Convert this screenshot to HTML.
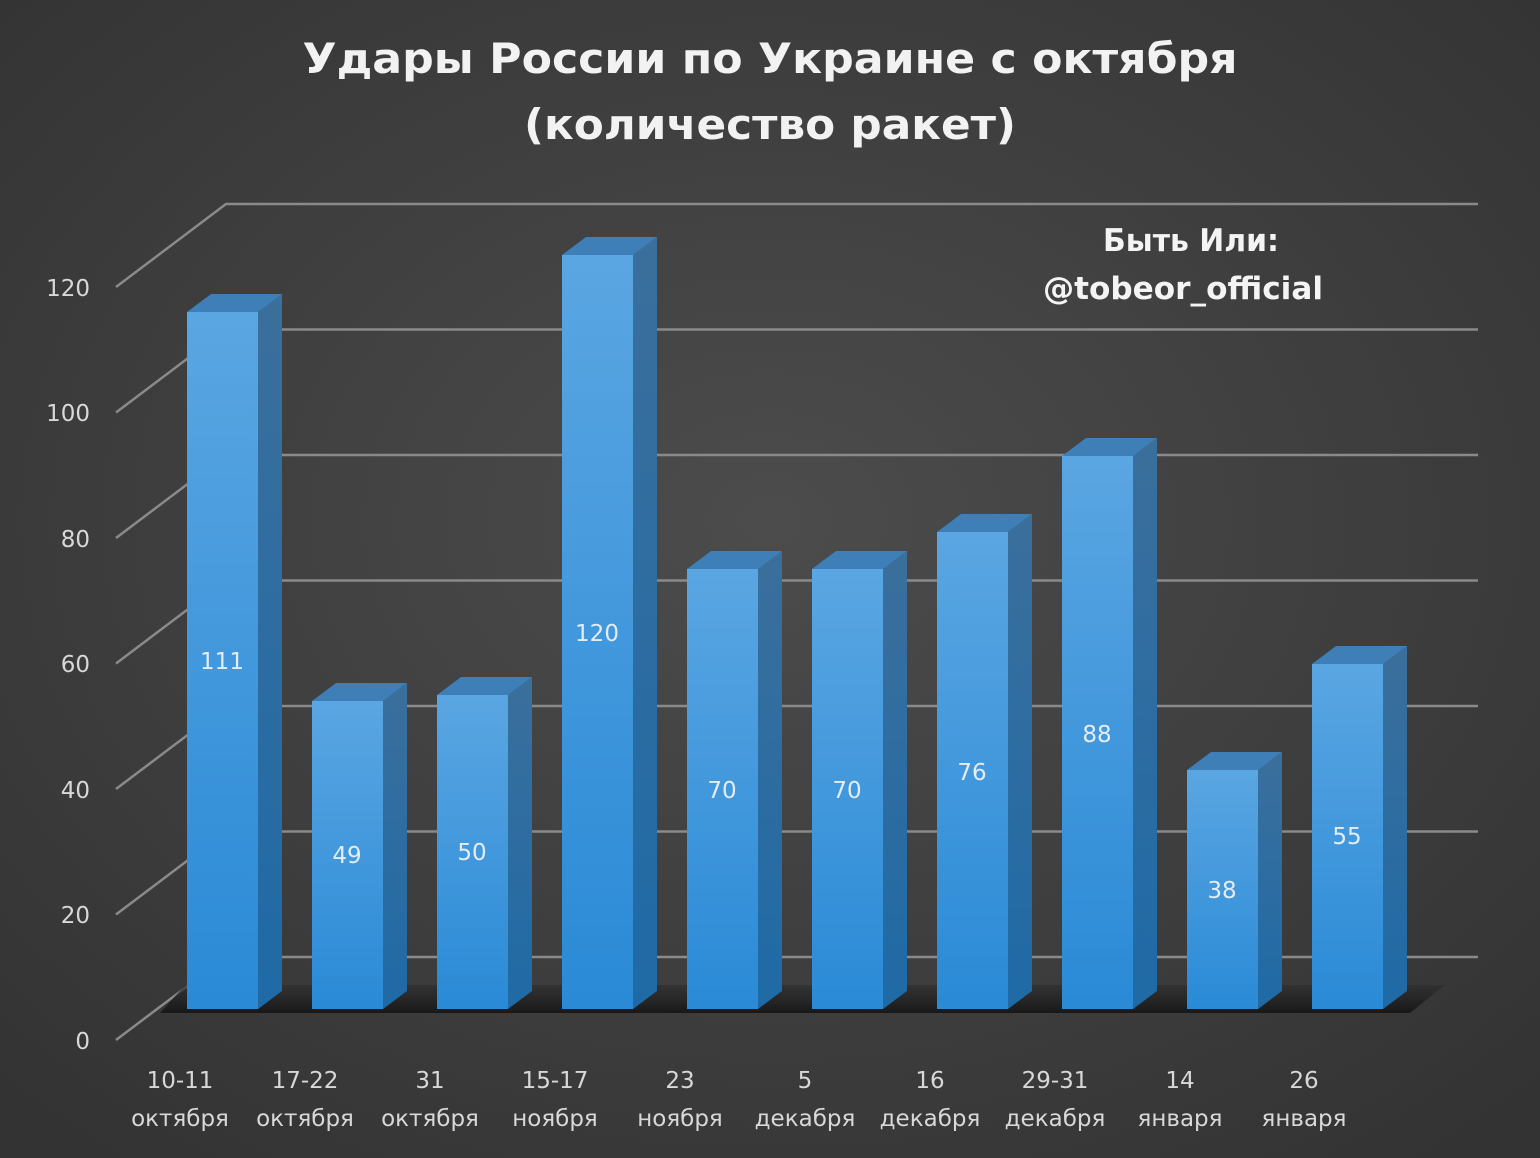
<!DOCTYPE html>
<html><head><meta charset="utf-8"><style>
html,body{margin:0;padding:0;background:#3c3c3c}
svg{display:block}
text{font-family:"DejaVu Sans","Liberation Sans",sans-serif}
</style></head><body>
<svg width="1540" height="1158" viewBox="0 0 1540 1158" xmlns="http://www.w3.org/2000/svg">
<defs>
<radialGradient id="bg" cx="50%" cy="45%" r="70%">
<stop offset="0" stop-color="#4c4c4c"/><stop offset="1" stop-color="#333"/>
</radialGradient>
<linearGradient id="front" x1="0" y1="0" x2="0" y2="1">
<stop offset="0" stop-color="#5aa6e2"/><stop offset="1" stop-color="#2a8ad6"/>
</linearGradient>
<linearGradient id="side" x1="0" y1="0" x2="0" y2="1">
<stop offset="0" stop-color="#3b6f9c"/><stop offset="1" stop-color="#1f6aa6"/>
</linearGradient>
<linearGradient id="floor" x1="0" y1="0" x2="0" y2="1">
<stop offset="0" stop-color="#2c2c2c" stop-opacity="0.6"/><stop offset="1" stop-color="#141414" stop-opacity="0.9"/>
</linearGradient>
</defs>
<rect width="1540" height="1158" fill="url(#bg)"/>
<g fill="#f2f2f2" font-weight="bold" font-size="42" text-anchor="middle">
<text x="770" y="73" textLength="935" lengthAdjust="spacingAndGlyphs">Удары России по Украине с октября</text>
<text x="770" y="139" textLength="492" lengthAdjust="spacingAndGlyphs">(количество ракет)</text>
</g>
<g stroke="#8a8a8a" stroke-width="2.5" fill="none">
<polyline points="116,1040 226,957 1478,957"/>
<polyline points="116,914.5 226,831.5 1478,831.5"/>
<polyline points="116,789 226,706 1478,706"/>
<polyline points="116,663.5 226,580.5 1478,580.5"/>
<polyline points="116,538 226,455 1478,455"/>
<polyline points="116,412.5 226,329.5 1478,329.5"/>
<polyline points="116,287 226,204 1478,204"/>
</g>
<polygon points="160,1013 1410,1013 1445,985 185,985" fill="url(#floor)"/>
<g fill="#d8d8d8" font-size="23" text-anchor="end">
<text x="90" y="1049">0</text><text x="90" y="923">20</text><text x="90" y="798">40</text>
<text x="90" y="672">60</text><text x="90" y="547">80</text><text x="90" y="421">100</text><text x="90" y="296">120</text>
</g>
<g id="bars">
<g><rect x="187" y="312" width="71" height="697" fill="url(#front)"/><polygon points="258,312 282,294 282,991 258,1009" fill="url(#side)"/><polygon points="187,312 211,294 282,294 258,312" fill="#3f7fb8"/></g>
<g><rect x="312" y="701" width="71" height="308" fill="url(#front)"/><polygon points="383,701 407,683 407,991 383,1009" fill="url(#side)"/><polygon points="312,701 336,683 407,683 383,701" fill="#3f7fb8"/></g>
<g><rect x="437" y="695" width="71" height="314" fill="url(#front)"/><polygon points="508,695 532,677 532,991 508,1009" fill="url(#side)"/><polygon points="437,695 461,677 532,677 508,695" fill="#3f7fb8"/></g>
<g><rect x="562" y="255" width="71" height="754" fill="url(#front)"/><polygon points="633,255 657,237 657,991 633,1009" fill="url(#side)"/><polygon points="562,255 586,237 657,237 633,255" fill="#3f7fb8"/></g>
<g><rect x="687" y="569" width="71" height="440" fill="url(#front)"/><polygon points="758,569 782,551 782,991 758,1009" fill="url(#side)"/><polygon points="687,569 711,551 782,551 758,569" fill="#3f7fb8"/></g>
<g><rect x="812" y="569" width="71" height="440" fill="url(#front)"/><polygon points="883,569 907,551 907,991 883,1009" fill="url(#side)"/><polygon points="812,569 836,551 907,551 883,569" fill="#3f7fb8"/></g>
<g><rect x="937" y="532" width="71" height="477" fill="url(#front)"/><polygon points="1008,532 1032,514 1032,991 1008,1009" fill="url(#side)"/><polygon points="937,532 961,514 1032,514 1008,532" fill="#3f7fb8"/></g>
<g><rect x="1062" y="456" width="71" height="553" fill="url(#front)"/><polygon points="1133,456 1157,438 1157,991 1133,1009" fill="url(#side)"/><polygon points="1062,456 1086,438 1157,438 1133,456" fill="#3f7fb8"/></g>
<g><rect x="1187" y="770" width="71" height="239" fill="url(#front)"/><polygon points="1258,770 1282,752 1282,991 1258,1009" fill="url(#side)"/><polygon points="1187,770 1211,752 1282,752 1258,770" fill="#3f7fb8"/></g>
<g><rect x="1312" y="664" width="71" height="345" fill="url(#front)"/><polygon points="1383,664 1407,646 1407,991 1383,1009" fill="url(#side)"/><polygon points="1312,664 1336,646 1407,646 1383,664" fill="#3f7fb8"/></g>
</g>
<g fill="#e4ecf4" font-size="23" text-anchor="middle">
<text x="222" y="669">111</text><text x="347" y="863">49</text><text x="472" y="860">50</text>
<text x="597" y="641">120</text><text x="722" y="798">70</text><text x="847" y="798">70</text>
<text x="972" y="780">76</text><text x="1097" y="742">88</text><text x="1222" y="898">38</text>
<text x="1347" y="844">55</text>
</g>
<g fill="#d8d8d8" font-size="23" text-anchor="middle">
<text x="180" y="1088">10-11</text><text x="180" y="1126">октября</text>
<text x="305" y="1088">17-22</text><text x="305" y="1126">октября</text>
<text x="430" y="1088">31</text><text x="430" y="1126">октября</text>
<text x="555" y="1088">15-17</text><text x="555" y="1126">ноября</text>
<text x="680" y="1088">23</text><text x="680" y="1126">ноября</text>
<text x="805" y="1088">5</text><text x="805" y="1126">декабря</text>
<text x="930" y="1088">16</text><text x="930" y="1126">декабря</text>
<text x="1055" y="1088">29-31</text><text x="1055" y="1126">декабря</text>
<text x="1180" y="1088">14</text><text x="1180" y="1126">января</text>
<text x="1304" y="1088">26</text><text x="1304" y="1126">января</text>
</g>
<g fill="#f4f4f4" font-weight="bold" font-size="31" text-anchor="middle">
<text x="1191" y="251" textLength="176" lengthAdjust="spacingAndGlyphs">Быть Или:</text>
<text x="1183" y="299" textLength="280" lengthAdjust="spacingAndGlyphs">@tobeor_official</text>
</g>
</svg>
</body></html>
